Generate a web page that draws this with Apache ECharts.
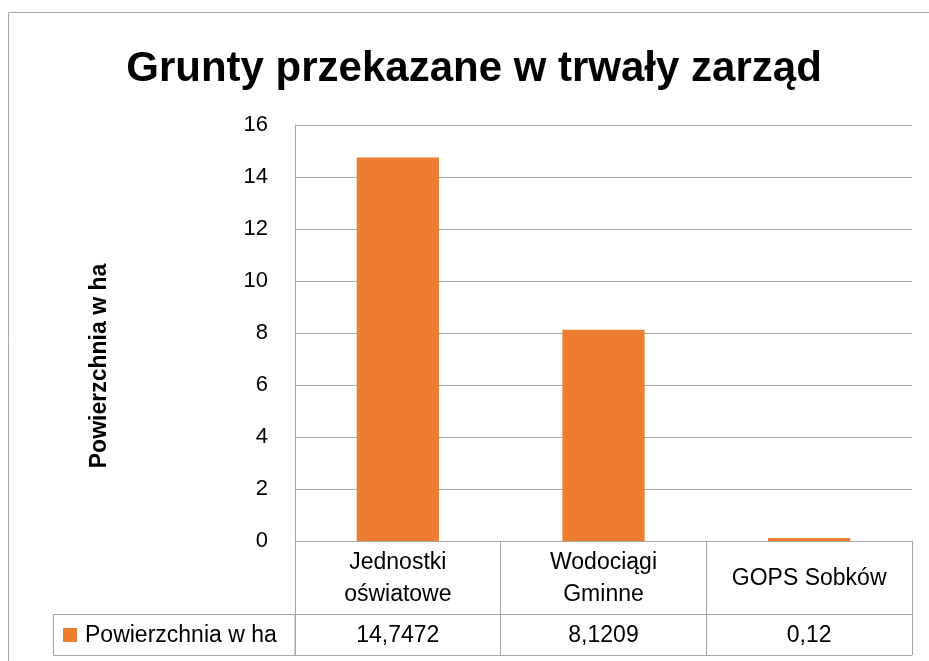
<!DOCTYPE html>
<html><head><meta charset="utf-8">
<script src="https://cdn.jsdelivr.net/npm/echarts@6/dist/echarts.min.js"></script>
<style>html,body{margin:0;padding:0;background:#fff}#c{width:929px;height:661px}</style>
</head><body><div id="c"></div>
<script>
const chartTitle = 'Grunty przekazane w trwały zarząd';
const seriesName = 'Powierzchnia w ha';
const categories = ['Jednostki\noświatowe', 'Wodociągi\nGminne', 'GOPS Sobków'];
const values = [14.7472, 8.1209, 0.12];
const yMin = 0, yMax = 16, yInterval = 2;

const valueLabels = values.map(v => String(v).replace('.', ','));
const GRAY = '#A6A6A6';
const FONT = '"Liberation Sans", "DejaVu Sans", sans-serif';
const chart = echarts.init(document.getElementById('c'));

chart.setOption({
  animation: false,
  backgroundColor: '#fff',
  textStyle: { fontFamily: FONT },
  title: {
    text: chartTitle, left: 469, top: 43, textAlign: 'center',
    textStyle: { fontFamily: FONT, fontWeight: 'bold', fontSize: 42, color: '#000' }
  },
  grid: { left: 295, right: 17, top: 125, bottom: 120, containLabel: false },
  xAxis: [{
    type: 'category', data: categories, position: 'bottom',
    axisLine: { show: true, lineStyle: { color: GRAY, width: 1 } },
    axisTick: { show: true, length: 114, alignWithLabel: false, lineStyle: { color: GRAY } },
    axisLabel: { fontSize: 23, lineHeight: 32, color: '#000', margin: 38, verticalAlign: 'middle', interval: 0 },
    splitLine: { show: false }
  }, {
    type: 'category', data: valueLabels, position: 'bottom', offset: 73,
    axisLine: { show: true, lineStyle: { color: GRAY, width: 1 } },
    axisTick: { show: false },
    axisLabel: { fontSize: 23, color: '#000', margin: 22, verticalAlign: 'middle', interval: 0 },
    splitLine: { show: false }
  }],
  yAxis: {
    type: 'value', min: yMin, max: yMax, interval: yInterval,
    axisLine: { show: true, lineStyle: { color: GRAY } },
    axisTick: { show: false },
    splitLine: { show: true, lineStyle: { color: GRAY, width: 1 } },
    axisLabel: { fontSize: 22, color: '#000', margin: 27 }
  },
  series: [{
    type: 'bar', name: seriesName, data: values, xAxisIndex: 0,
    barWidth: '40%', itemStyle: { color: '#ED7D31' }
  }],
  graphic: [
    { type: 'line', shape: { x1: 8.5, y1: 12.5, x2: 929, y2: 12.5 }, style: { stroke: GRAY, lineWidth: 1 } },
    { type: 'line', shape: { x1: 8.5, y1: 12.5, x2: 8.5, y2: 661 }, style: { stroke: GRAY, lineWidth: 1 } },
    { type: 'rect', shape: { x: 53.5, y: 614.5, width: 241.5, height: 41 }, style: { fill: 'none', stroke: GRAY, lineWidth: 1 } },
    { type: 'line', shape: { x1: 295, y1: 655.5, x2: 912, y2: 655.5 }, style: { stroke: GRAY, lineWidth: 1 } },
    { type: 'rect', shape: { x: 63, y: 628, width: 14, height: 14 }, style: { fill: '#ED7D31' } },
    { type: 'text', x: 85, y: 636, style: { text: seriesName, fill: '#000', textVerticalAlign: 'middle', font: '23px ' + FONT } },
    { type: 'text', x: 100, y: 366, rotation: Math.PI / 2,
      style: { text: seriesName, fill: '#000', textAlign: 'center', textVerticalAlign: 'middle', font: 'bold 23px ' + FONT } }
  ]
});
</script>
</body></html>
